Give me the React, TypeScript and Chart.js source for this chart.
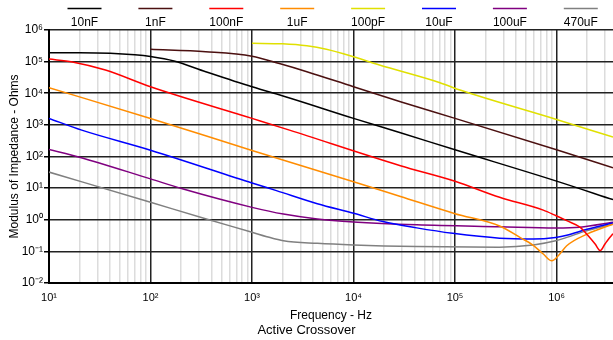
import React, { useEffect, useRef } from 'react';
import { Chart, registerables } from 'chart.js';

Chart.register(...registerables);

const seriesLabels = ['10nF', '1nF', '100nF', '1uF', '100pF', '10uF', '100uF', '470uF'];
const seriesColors = ['#000000', '#4b1010', '#ff0000', '#ff8c00', '#e0e000', '#0000ff', '#800080', '#808080'];

// Frequency (Hz) and |Z| (Ohms)
const f10nF = [10, 20, 40, 70, 100, 170, 350, 1000, 2300, 1e4, 2.9e4, 1e5, 1e6, 3.6e6];
const z10nF = [1.9e5, 1.92e5, 1.85e5, 1.65e5, 1.45e5, 1.05e5, 4.8e4, 1.6e4, 7.2e3, 1.6e3, 560, 162, 16.6, 4.3];

const f1nF = [100, 350, 1000, 1860, 3470, 1e4, 2.9e4, 1e5, 1e6, 3.6e6];
const z1nF = [2.45e5, 2.05e5, 1.48e5, 8.7e4, 4.8e4, 1.6e4, 5.4e3, 1.6e3, 162, 44];

const f100nF = [10, 17, 36, 100, 1000, 2340, 2.9e4, 1e5, 2.75e5, 7.4e5, 9.8e5, 1.26e6, 1.7e6, 2.05e6, 2.4e6, 2.7e6, 3.0e6, 3.3e6, 3.6e6];
const z100nF = [1.2e5, 9.8e4, 5.4e4, 1.6e4, 1.6e3, 680, 51, 16.5, 5.1, 2.0, 1.35, 0.93, 0.58, 0.31, 0.17, 0.105, 0.17, 0.26, 0.36];

const f1uF = [10, 100, 1000, 1e4, 2.9e4, 1e5, 2.75e5, 4.4e5, 5.9e5, 7.4e5, 9e5, 1.04e6, 1.26e6, 2e6, 3.6e6];
const z1uF = [1.5e4, 1.59e3, 155, 15.8, 5.4, 1.55, 0.63, 0.27, 0.155, 0.082, 0.05, 0.072, 0.15, 0.35, 0.72];

const f100pF = [1000, 2000, 3470, 5400, 1e4, 1.8e4, 7.1e4, 1.12e5, 1e6, 3.6e6];
const z100pF = [3.8e5, 3.65e5, 3.15e5, 2.45e5, 1.42e5, 7.8e4, 2.15e4, 1.26e4, 1.48e3, 410];

const f10uF = [10, 21, 100, 1000, 1740, 4400, 1e4, 1.95e4, 4.2e4, 9.5e4, 2.75e5, 5.9e5, 9.8e5, 1.26e6, 2e6, 3.6e6];
const z10uF = [1.6e3, 680, 158, 14.5, 8.3, 3.2, 1.6, 0.87, 0.55, 0.37, 0.26, 0.245, 0.275, 0.32, 0.5, 0.79];

const f100uF = [10, 20, 100, 210, 1000, 2040, 4400, 1e4, 4.2e4, 2.75e5, 9.8e5, 1.7e6, 3.6e6];
const z100uF = [166, 95, 19.5, 9.3, 2.45, 1.5, 1.05, 0.85, 0.69, 0.6, 0.55, 0.58, 0.83];

const f470uF = [10, 100, 355, 1000, 1400, 2040, 4400, 1e4, 4.2e4, 2.75e5, 5.9e5, 9.8e5, 1.26e6, 2e6, 3.6e6];
const z470uF = [32, 3.55, 1.05, 0.4, 0.29, 0.215, 0.178, 0.158, 0.141, 0.135, 0.158, 0.214, 0.275, 0.45, 0.72];

const seriesFreqs = [f10nF, f1nF, f100nF, f1uF, f100pF, f10uF, f100uF, f470uF];
const seriesValues = [z10nF, z1nF, z100nF, z1uF, z100pF, z10uF, z100uF, z470uF];

const xMin = 10;
const xMax = 3.6e6;
const yMin = 0.01;
const yMax = 1e6;
const xDecades = [1, 2, 3, 4, 5, 6];
const yDecades = [-2, -1, 0, 1, 2, 3, 4, 5, 6];

const FONT = '"Liberation Sans", Arial, sans-serif';

const SUP: Record<string, string> = {
  '0': '\u2070', '1': '\u00b9', '2': '\u00b2', '3': '\u00b3', '4': '\u2074',
  '5': '\u2075', '6': '\u2076', '7': '\u2077', '8': '\u2078', '9': '\u2079', '-': '\u207b',
};
const sup = (n: number) => String(n).split('').map((c) => SUP[c] || c).join('');

const isPow10 = (v: number) => {
  const e = Math.log10(v);
  return Math.abs(e - Math.round(e)) < 1e-9;
};

const topLegend = {
  id: 'topLegend',
  afterDraw(chart: any) {
    const { ctx, chartArea } = chart;
    ctx.save();
    const step = 70.9;
    const start = chartArea.left + 35.5;
    chart.data.datasets.forEach((ds: any, i: number) => {
      const cx = start + i * step;
      ctx.strokeStyle = ds.borderColor;
      ctx.lineWidth = 1.5;
      ctx.beginPath();
      ctx.moveTo(cx - 17, 8.5);
      ctx.lineTo(cx + 17, 8.5);
      ctx.stroke();
      ctx.fillStyle = '#000';
      ctx.font = `12px ${FONT}`;
      ctx.textAlign = 'center';
      ctx.textBaseline = 'middle';
      ctx.fillText(ds.label, cx, 22.5);
    });
    ctx.restore();
  },
};

export default function App() {
  const ref = useRef<HTMLCanvasElement | null>(null);

  useEffect(() => {
    document.body.style.margin = '0';
    if (!ref.current) return;
    const datasets = seriesLabels.map((label, i) => ({
      label,
      data: seriesFreqs[i].map((x, j) => ({ x, y: seriesValues[i][j] })),
      borderColor: seriesColors[i],
      backgroundColor: seriesColors[i],
      borderWidth: 1.5,
      pointRadius: 0,
      cubicInterpolationMode: 'monotone' as const,
      fill: false,
    }));

    const xTickValues: number[] = [];
    xDecades.forEach((d) => {
      for (let m = 1; m <= 9; m++) {
        const v = m * Math.pow(10, d);
        if (v >= xMin && v <= xMax) xTickValues.push(v);
      }
    });
    const yTickValues = yDecades.map((d) => Math.pow(10, d));

    const chart = new Chart(ref.current, {
      type: 'line',
      data: { datasets },
      plugins: [topLegend],
      options: {
        animation: false,
        responsive: false,
        layout: { padding: { top: 30, right: 0, left: 0, bottom: 0 } },
        plugins: {
          legend: { display: false },
          tooltip: { enabled: false },
          title: {
            display: true,
            text: 'Active Crossover',
            position: 'bottom',
            color: '#000',
            font: { family: FONT, size: 13, weight: 'normal' },
            padding: { top: 0, bottom: 2 },
          },
        },
        scales: {
          x: {
            type: 'logarithmic',
            min: xMin,
            max: xMax,
            afterBuildTicks: (scale: any) => {
              scale.ticks = xTickValues.map((v) => ({ value: v, major: isPow10(v) }));
            },
            afterFit: (scale: any) => {
              scale.height = 39.5;
            },
            ticks: {
              autoSkip: false,
              maxRotation: 0,
              padding: 8,
              color: '#000',
              font: { family: FONT, size: 11 },
              callback: (v: any) => (isPow10(Number(v)) ? '10' + sup(Math.round(Math.log10(Number(v)))) : ''),
            },
            grid: {
              drawTicks: false,
              color: (c: any) => (c.tick && isPow10(c.tick.value) ? '#222' : '#dcdcdc'),
              lineWidth: 1.5,
            },
            border: { display: true, color: '#000', width: 2 },
            title: {
              display: true,
              text: 'Frequency - Hz',
              color: '#000',
              font: { family: FONT, size: 12 },
              padding: { top: 0, bottom: 0 },
            },
          },
          y: {
            type: 'logarithmic',
            min: yMin,
            max: yMax,
            afterBuildTicks: (scale: any) => {
              scale.ticks = yTickValues.map((v) => ({ value: v, major: true }));
            },
            afterFit: (scale: any) => {
              scale.width = 49;
            },
            ticks: {
              autoSkip: false,
              padding: 1,
              color: '#000',
              font: { family: FONT, size: 12 },
              callback: (v: any) => '10' + sup(Math.round(Math.log10(Number(v)))),
            },
            grid: {
              color: '#222',
              tickColor: '#000',
              tickLength: 5,
              lineWidth: 1.5,
            },
            border: { display: true, color: '#000', width: 2 },
            title: {
              display: true,
              text: 'Modulus of Impedance - Ohms',
              color: '#000',
              font: { family: FONT, size: 12 },
              padding: { top: 7, bottom: 0 },
            },
          },
        },
      } as any,
    });
    return () => chart.destroy();
  }, []);

  return <canvas ref={ref} width={613} height={340} style={{ display: 'block' }} />;
}
